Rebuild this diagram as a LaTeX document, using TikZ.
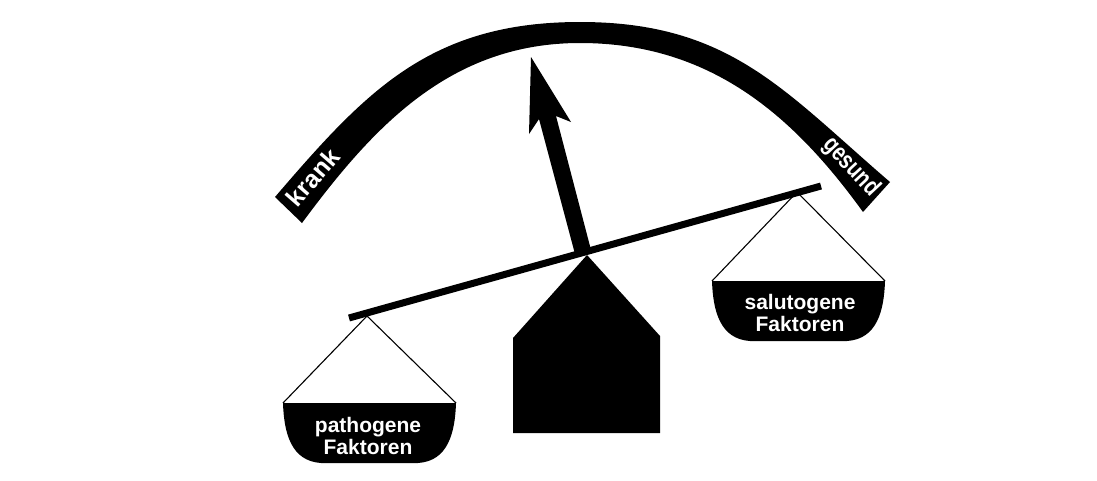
\documentclass[tikz,border=0pt]{standalone}
\usepackage{fontspec}
\setmainfont{Liberation Sans}
\tikzset{
  labeltext/.style={text=white, inner sep=0pt, font=\fontsize{25}{26}\selectfont\bfseries},
  pantext/.style={text=white, align=center, inner sep=0pt, font=\fontsize{21}{22}\selectfont\bfseries},
  stringline/.style={draw=black, line width=1.1pt},
  beamline/.style={draw=black, line width=7pt},
  pan/.pic={
    \fill[black] (0,0) -- (173,0) .. controls (172,30) and (165,58) .. (135,60)
      -- (38,60) .. controls (8,58) and (1,30) .. (0,0) -- cycle;
  }
}
\begin{document}
\begin{tikzpicture}[x=1pt,y=-1pt]
\useasboundingbox (0,0) rectangle (1097,480);
\fill[white] (0,0) rectangle (1097,480);

% arc band
\fill[black] (275,197) .. controls (366,91) and (430,22) .. (580,22)
  .. controls (730,22) and (784,91) .. (890,182)
  -- (863,212) .. controls (793,115) and (710,43) .. (580,43)
  .. controls (450,43) and (373,127) .. (302,223) -- cycle;
\node[labeltext, rotate=49] (krank) at (313,177) {krank};
\node[labeltext, rotate=-47, xscale=0.8] (gesund) at (851,167) {gesund};

% pointer arrow
\fill[black] (531,57) -- (571,122) -- (556,116) -- (591,250) -- (575,254)
  -- (539,119) -- (529,134) -- cycle;

% beam
\coordinate (beamL) at (349,318);
\coordinate (beamR) at (821,186);
\draw[beamline] (beamL) -- (beamR);

% fulcrum
\fill[black] (587,255) -- (660,336) -- (660,433) -- (513,433) -- (513,338) -- cycle;

% left pan
\coordinate (lhang) at (367,316);
\coordinate (lpanL) at (283,403);
\coordinate (lpanR) at (456,403);
\draw[stringline] (lpanL) -- (lhang) -- (lpanR);
\pic at (lpanL) {pan};
\node[pantext] (ltext) at (368,436) {pathogene\\Faktoren};

% right pan
\coordinate (rhang) at (797,192);
\coordinate (rpanL) at (712,281);
\coordinate (rpanR) at (885,281);
\draw[stringline] (rpanL) -- (rhang) -- (rpanR);
\pic at (rpanL) {pan};
\node[pantext] (rtext) at (800,313) {salutogene\\Faktoren};
\end{tikzpicture}
\end{document}
